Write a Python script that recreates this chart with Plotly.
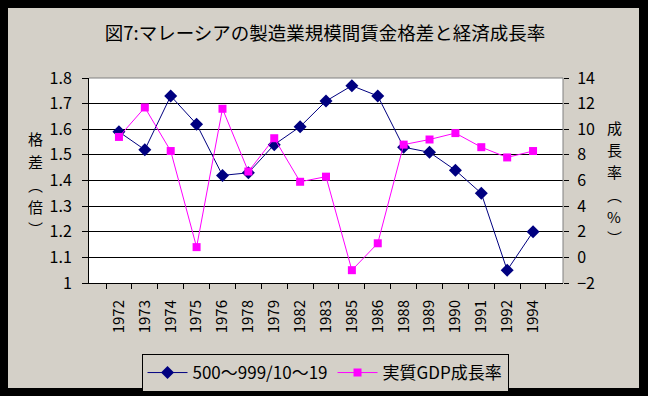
import plotly.graph_objects as go

years = ["1972", "1973", "1974", "1975", "1976", "1978", "1979", "1982", "1983",
         "1985", "1986", "1988", "1989", "1990", "1991", "1992", "1994"]
wage_gap = [1.59, 1.52, 1.73, 1.62, 1.42, 1.43, 1.54, 1.61, 1.71,
            1.77, 1.73, 1.53, 1.51, 1.44, 1.35, 1.05, 1.20]
gdp_growth = [9.4, 11.7, 8.3, 0.8, 11.6, 6.7, 9.3, 5.9, 6.3,
              -1.0, 1.1, 8.8, 9.2, 9.7, 8.6, 7.8, 8.3]

name_gap = "500～999/10～19"
name_gdp = "実質GDP成長率"
title_text = "図7:マレーシアの製造業規模間賃金格差と経済成長率"
left_title_chars = ["格", "差", "︵", "倍", "︶"]
right_title_chars = ["成", "長", "率", "︵", "%", "︶"]

FONT = "Noto Sans CJK JP"
BG = "#d4d0c8"

# plot-area pixel geometry
L, R, T, B = 89, 563, 78, 283
W, H = 648, 396


def px_x(p):
    return (p - L) / (R - L)


def px_y(p):
    return (B - p) / (B - T)


fig = go.Figure()
fig.add_trace(go.Scatter(
    x=years, y=wage_gap, name=name_gap, mode="lines+markers",
    line=dict(color="#000080", width=1),
    marker=dict(symbol="diamond", size=10, color="#000080"),
))
fig.add_trace(go.Scatter(
    x=years, y=gdp_growth, name=name_gdp, mode="lines+markers", yaxis="y2",
    line=dict(color="#ff00ff", width=1),
    marker=dict(symbol="square", size=8, color="#ff00ff"),
))

shapes = []
frame = [(0, 0, 8, 396), (639, 0, 648, 396), (0, 0, 648, 8), (0, 388, 648, 396)]
for x0, y0, x1, y1 in frame:
    shapes.append(dict(type="rect", xref="paper", yref="paper",
                       x0=px_x(x0), x1=px_x(x1), y0=px_y(y1), y1=px_y(y0),
                       fillcolor="black", line=dict(width=0), layer="above"))
# grey top/right border of plot area
shapes.append(dict(type="line", xref="paper", yref="paper", x0=0, x1=1, y0=1, y1=1,
                   line=dict(color="#808080", width=1), layer="above"))
shapes.append(dict(type="line", xref="paper", yref="paper", x0=1, x1=1, y0=0, y1=1,
                   line=dict(color="#808080", width=1), layer="above"))

annotations = []
left_y = [138, 161, 184, 206, 228]
for ch, py in zip(left_title_chars, left_y):
    annotations.append(dict(text=ch, xref="paper", yref="paper", x=px_x(35), y=px_y(py),
                            xanchor="center", yanchor="middle", showarrow=False,
                            font=dict(family=FONT, size=15, color="black")))
right_y = [127, 149, 171, 194, 216, 237]
for ch, py in zip(right_title_chars, right_y):
    annotations.append(dict(text=ch, xref="paper", yref="paper", x=px_x(614), y=px_y(py),
                            xanchor="center", yanchor="middle", showarrow=False,
                            font=dict(family=FONT, size=15, color="black")))

fig.update_layout(
    width=W, height=H,
    margin=dict(l=L, r=W - R, t=T, b=H - B, pad=0, autoexpand=False),
    paper_bgcolor=BG, plot_bgcolor="white",
    font=dict(family=FONT, size=15, color="black"),
    title=dict(text=title_text, x=325 / W, xanchor="center", y=1 - 34 / H,
               yanchor="middle", font=dict(family=FONT, size=18.5, color="black")),
    showlegend=True,
    legend=dict(orientation="h", x=px_x(325), xanchor="center", y=px_y(354),
                yanchor="top", bgcolor=BG, bordercolor="black", borderwidth=1,
                font=dict(family=FONT, size=17), itemwidth=40,
                tracegroupgap=0),
    xaxis=dict(type="category", tickangle=-90, showgrid=False, automargin=False,
               showline=True, linecolor="black", linewidth=1,
               ticks="outside", tickson="boundaries", ticklen=5, tickcolor="black",
               ticklabelstandoff=10,
               tickfont=dict(family=FONT, size=15)),
    yaxis=dict(range=[1, 1.8], dtick=0.1, tickformat="~g", showgrid=True,
               automargin=False,
               gridcolor="black", gridwidth=1, zeroline=False,
               showline=True, linecolor="black", linewidth=1,
               ticks="outside", ticklen=6, tickcolor="black",
               ticklabelstandoff=7,
               tickfont=dict(family=FONT, size=16)),
    yaxis2=dict(range=[-2, 14], dtick=2, overlaying="y", side="right",
                automargin=False,
                showgrid=False, zeroline=False, showline=False,
                ticks="outside", ticklen=5, tickcolor="black",
                ticklabelstandoff=5,
                tickfont=dict(family=FONT, size=16)),
    shapes=shapes,
    annotations=annotations,
)

fig.write_html("out.html", config={"displayModeBar": False},
               post_script="document.body.style.margin='0';")
